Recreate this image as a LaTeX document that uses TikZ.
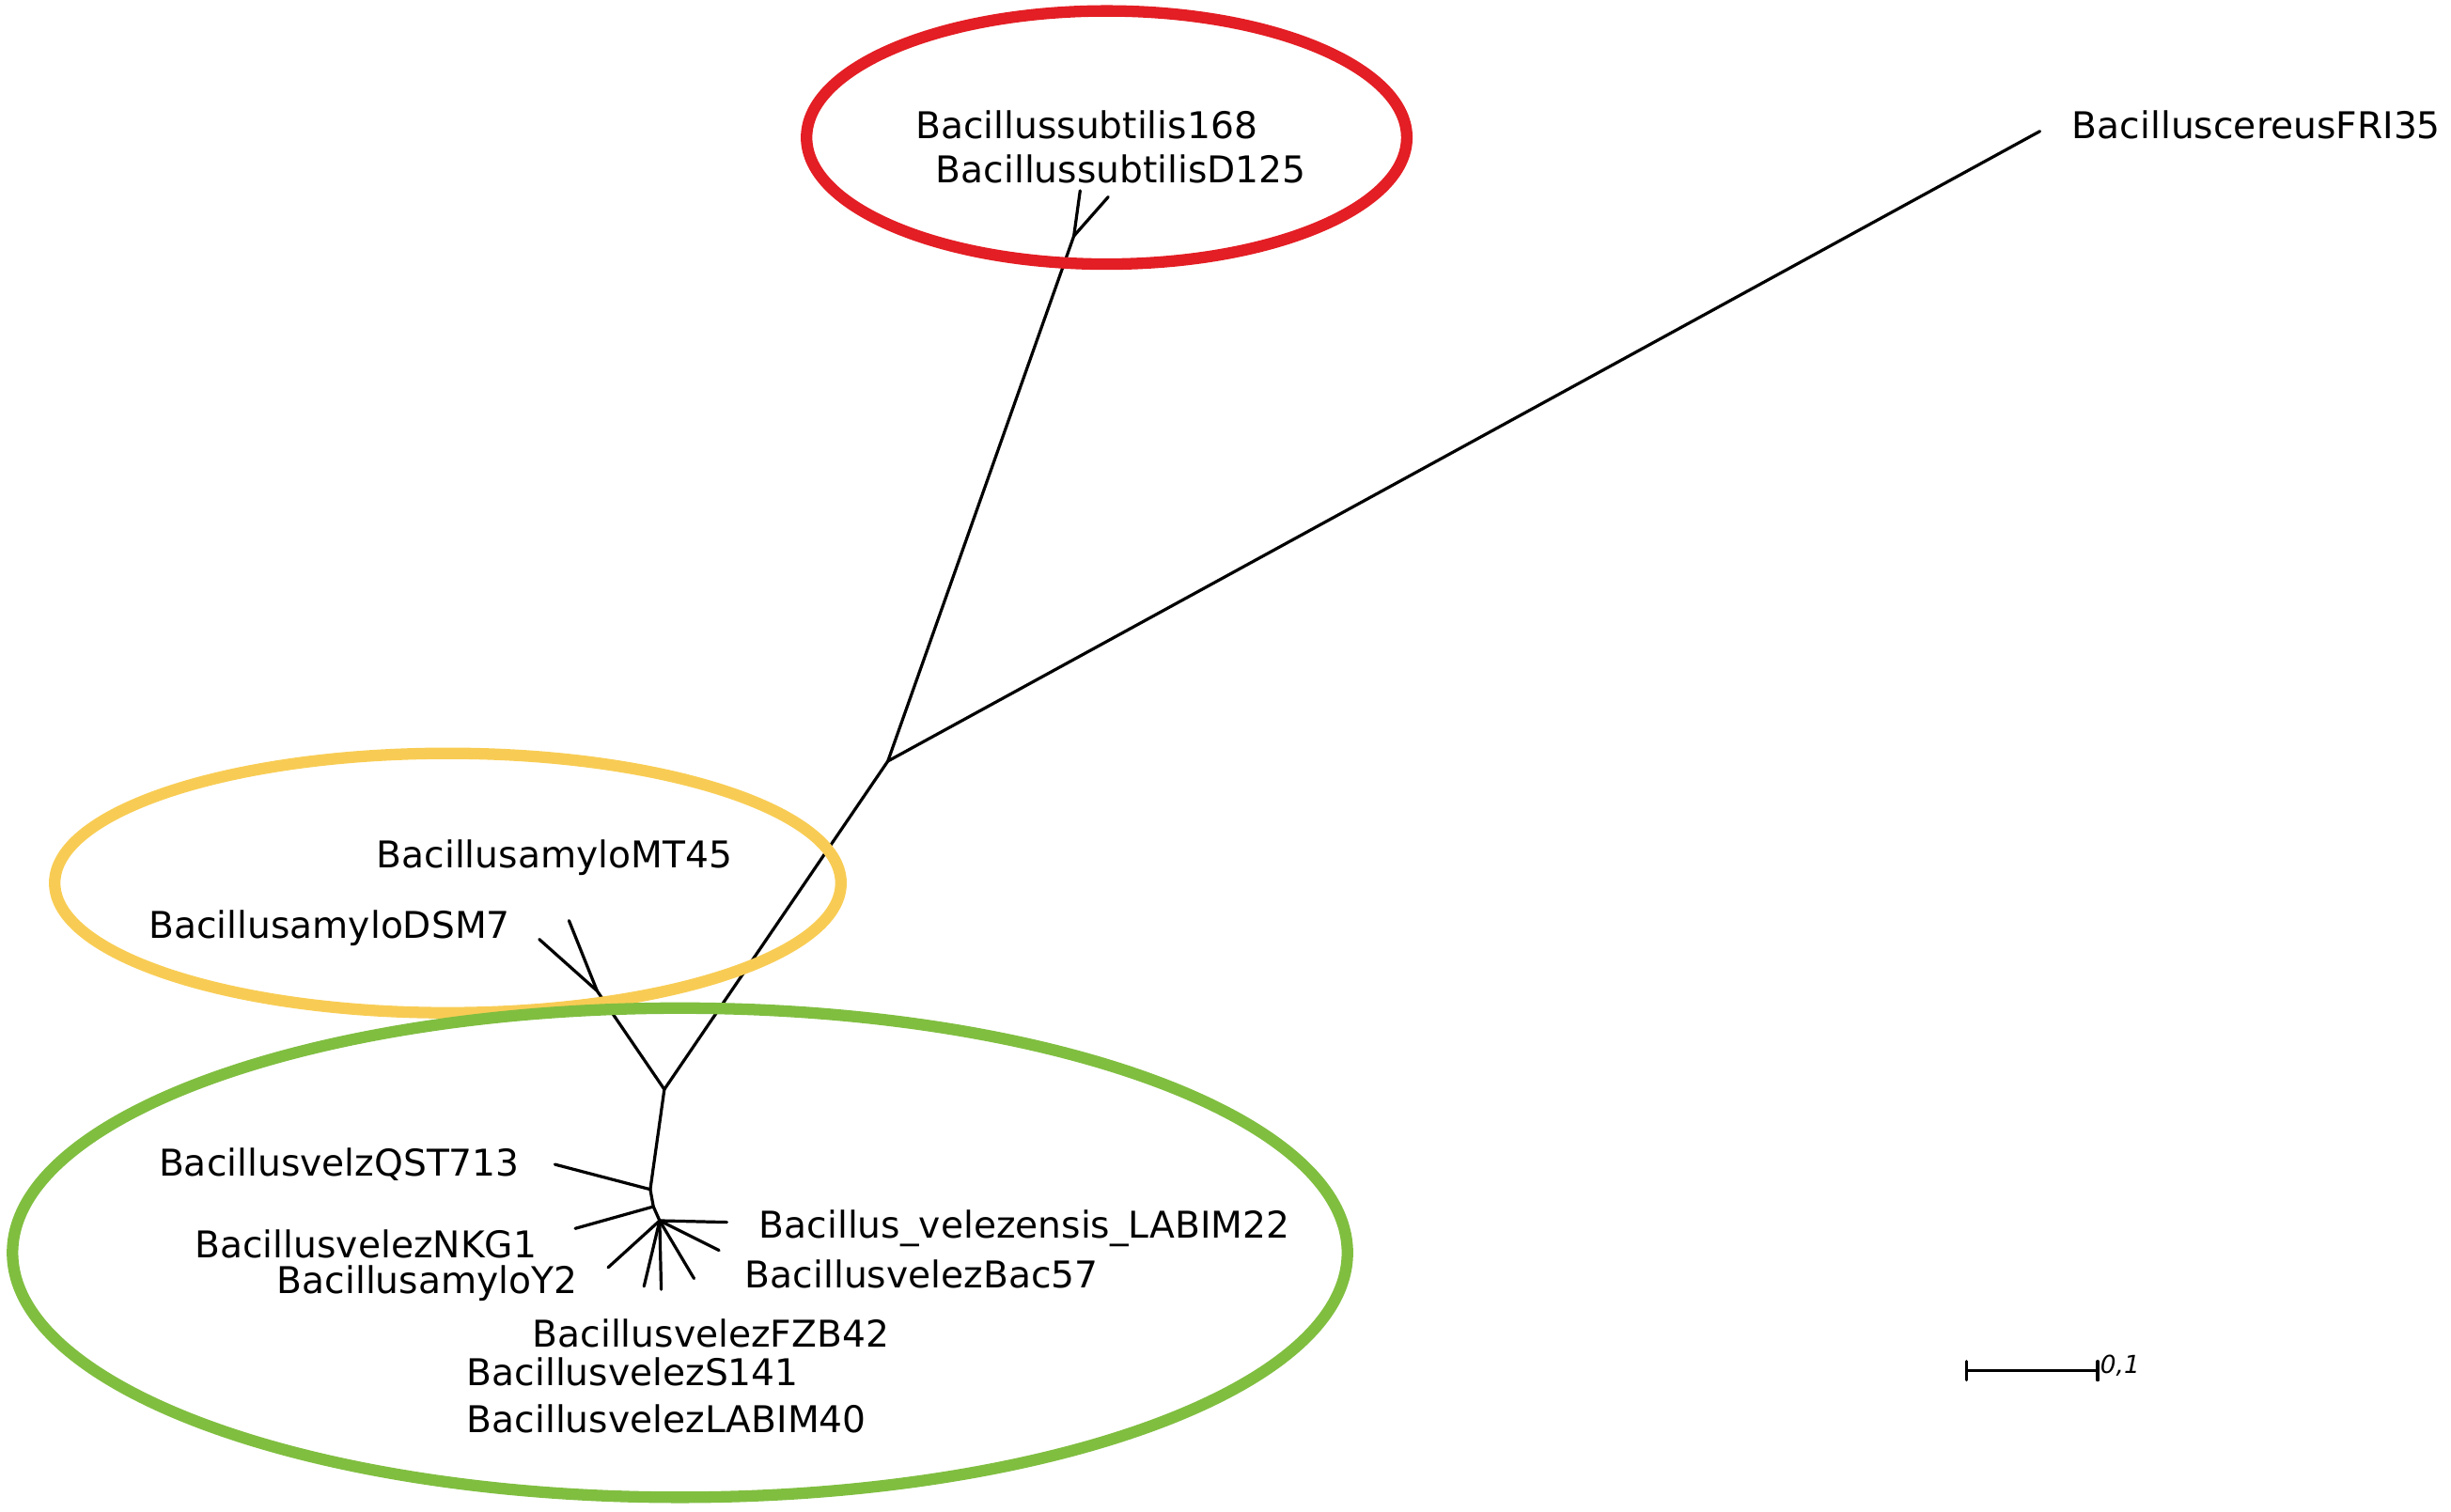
\documentclass[tikz,border=0pt]{standalone}
\usepackage{fontspec}
\setmainfont{DejaVu Sans}
\usepackage{tikz}

\definecolor{cladered}{RGB}{227,30,36}
\definecolor{cladeyellow}{RGB}{248,204,84}
\definecolor{cladegreen}{RGB}{128,190,64}

\begin{document}
\begin{tikzpicture}[x=0.01cm, y=-0.01cm,
    branch/.style={line width=0.55pt, line cap=round},
    clade/.style={line width=2.1pt},
    taxon/.style={inner sep=0pt, font=\fontsize{6.7}{8}\selectfont}]
    \useasboundingbox (0,0) rectangle (1568,967.4);

    % Inner nodes
    \coordinate (nC) at (568,487);
    \coordinate (nS) at (687,151);
    \coordinate (nV) at (425,697);
    \coordinate (nA) at (382,634);
    \coordinate (nQ) at (416,761);
    \coordinate (nN) at (418,772);
    \coordinate (nM) at (422,781);

    % Tips
    \coordinate (tipCereus) at (1305,84);
    \coordinate (tip168) at (691,122);
    \coordinate (tipD125) at (709,126);
    \coordinate (tipMT45) at (364,589);
    \coordinate (tipDSM7) at (345,601);
    \coordinate (tipQST) at (355,745);
    \coordinate (tipNKG1) at (368,786);
    \coordinate (tipLABIM22) at (465,782);
    \coordinate (tipBac57) at (460,800);
    \coordinate (tipFZB42) at (444,818);
    \coordinate (tipS141) at (423,825);
    \coordinate (tipLABIM40) at (412,823);
    \coordinate (tipY2) at (389,811);

    % Branches
    \draw[branch] (nC) -- (tipCereus);
    \draw[branch] (nC) -- (nS);
    \draw[branch] (nS) -- (tip168);
    \draw[branch] (nS) -- (tipD125);
    \draw[branch] (nC) -- (nV);
    \draw[branch] (nV) -- (nA);
    \draw[branch] (nA) -- (tipMT45);
    \draw[branch] (nA) -- (tipDSM7);
    \draw[branch] (nV) -- (nQ);
    \draw[branch] (nQ) -- (tipQST);
    \draw[branch] (nQ) -- (nN);
    \draw[branch] (nN) -- (tipNKG1);
    \draw[branch] (nN) -- (nM);
    \foreach \t in {tipLABIM22,tipBac57,tipFZB42,tipS141,tipLABIM40,tipY2}
        \draw[branch] (nM) -- (\t);

    % Clade ellipses (over the branches)
    \draw[clade, cladered] (708,88) ellipse [x radius=192, y radius=81];
    \draw[clade, cladeyellow] (286.5,565) ellipse [x radius=251.5, y radius=83];
    \draw[clade, cladegreen] (435,801.5) ellipse [x radius=427, y radius=156.5];

    % Taxon labels
    \node (lCereus) at (1325,80) [taxon, anchor=west] {BacilluscereusFRI35};
    \node (l168) at (585,80) [taxon, anchor=west] {Bacillussubtilis168};
    \node (lD125) at (598,108) [taxon, anchor=west] {BacillussubtilisD125};
    \node (lMT45) at (469,549) [taxon, anchor=east] {BacillusamyloMT45};
    \node (lDSM7) at (327,594) [taxon, anchor=east] {BacillusamyloDSM7};
    \node (lQST) at (333,745) [taxon, anchor=east] {BacillusvelzQST713};
    \node (lNKG1) at (344,796) [taxon, anchor=east] {BacillusvelezNKG1};
    \node (lY2) at (370,821) [taxon, anchor=east] {BacillusamyloY2};
    \node (lLABIM22) at (485,786) [taxon, anchor=west] {Bacillus\_velezensis\_LABIM22};
    \node (lBac57) at (476,815) [taxon, anchor=west] {BacillusvelezBac57};
    \node (lFZB42) at (340,853) [taxon, anchor=west] {BacillusvelezFZB42};
    \node (lS141) at (298,878) [taxon, anchor=west] {BacillusvelezS141};
    \node (lLABIM40) at (298,908) [taxon, anchor=west] {BacillusvelezLABIM40};

    % Scale bar
    \coordinate (barL) at (1258,877);
    \coordinate (barR) at (1342,877);
    \draw[branch] (barL) -- (barR);
    \draw[branch] (barL) ++(0,-6) -- ++(0,12);
    \draw[branch] (barR) ++(0,-6) -- ++(0,12);
    \node (lBar) at (1343,874) [anchor=west, inner sep=0pt, font=\fontsize{4.5}{5}\selectfont\itshape] {0,1};
\end{tikzpicture}
\end{document}
